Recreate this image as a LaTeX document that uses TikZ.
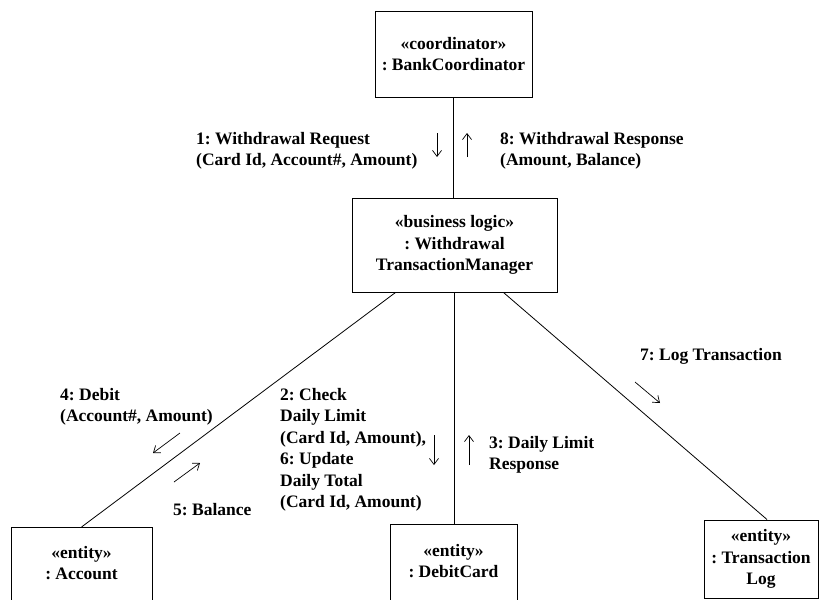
\documentclass[tikz,border=0pt]{standalone}
\usepackage{fontspec}
\setmainfont{Liberation Serif}
\usetikzlibrary{arrows.meta}
\frenchspacing
\begin{document}
\begin{tikzpicture}[x=1pt,y=-1pt,
  every node/.style={font=\bfseries\fontsize{17.5}{21.5}\selectfont},
  objbox/.style={draw, line width=1pt, align=center, inner sep=0pt},
  objtext/.style={align=center, inner sep=0pt},
  msg/.style={align=left, inner sep=0pt, anchor=west},
  link/.style={line width=0.8pt},
  flow/.style={line width=0.7pt, -{Straight Barb[length=6pt,width=9pt]}}
]
\useasboundingbox (0,0) rectangle (820,600);
\begin{scope}
\clip (0,0) rectangle (820,600);

% objects
\node[objbox, minimum width=157pt, minimum height=86pt] (bank) at (453.5,54)
  {«coordinator»\\: BankCoordinator};
\node[objbox, minimum width=205pt, minimum height=94pt] (mgr) at (454.5,245)
  {«business logic»\\: Withdrawal\\TransactionManager};
\node[objbox, minimum width=141pt, minimum height=100pt, anchor=north] (acct) at (81.5,527) {};
\node[objtext] (acctlbl) at (81.5,563) {«entity»\\: Account};
\node[objbox, minimum width=127pt, minimum height=100pt, anchor=north] (debit) at (453.5,524) {};
\node[objtext] (debitlbl) at (453.5,561) {«entity»\\: DebitCard};
\node[objbox, minimum width=114pt, minimum height=78pt] (tlog) at (761,559)
  {«entity»\\: Transaction\\Log};

% links
\draw[link] (bank.south) -- (bank.south |- mgr.north);
\draw[link] ([xshift=44pt]mgr.south west) -- (acct.north);
\draw[link] (mgr.south) -- (mgr.south |- debit.north);
\draw[link] ([xshift=-54pt]mgr.south east) -- ([xshift=6pt]tlog.north);

% messages
\node[msg] (m1) at (196,151) {1: Withdrawal Request\\(Card Id, Account\#, Amount)};
\node[msg] (m8) at (500,151) {8: Withdrawal Response\\(Amount, Balance)};
\node[msg] (m4) at (60,407) {4: Debit\\(Account\#, Amount)};
\node[msg] (m5) at (173,510) {5: Balance};
\node[msg] (m2) at (280,450) {2: Check\\Daily Limit\\(Card Id, Amount),\\6: Update\\Daily Total\\(Card Id, Amount)};
\node[msg] (m3) at (489,455) {3: Daily Limit\\Response};
\node[msg] (m7) at (640,356) {7: Log Transaction};

% message direction arrows
\coordinate (a1s) at (437,133); \coordinate (a1e) at (437,157);
\coordinate (a8s) at (467,157); \coordinate (a8e) at (467,133);
\coordinate (a4s) at (180,433); \coordinate (a4e) at (153,453);
\coordinate (a5s) at (174,482); \coordinate (a5e) at (200,463);
\coordinate (a2s) at (434,435); \coordinate (a2e) at (434,465);
\coordinate (a3s) at (469,465); \coordinate (a3e) at (469,435);
\coordinate (a7s) at (635,382); \coordinate (a7e) at (660,403);
\draw[flow] (a1s) -- (a1e);
\draw[flow] (a8s) -- (a8e);
\draw[flow] (a4s) -- (a4e);
\draw[flow] (a5s) -- (a5e);
\draw[flow] (a2s) -- (a2e);
\draw[flow] (a3s) -- (a3e);
\draw[flow] (a7s) -- (a7e);
\end{scope}
\end{tikzpicture}
\end{document}
